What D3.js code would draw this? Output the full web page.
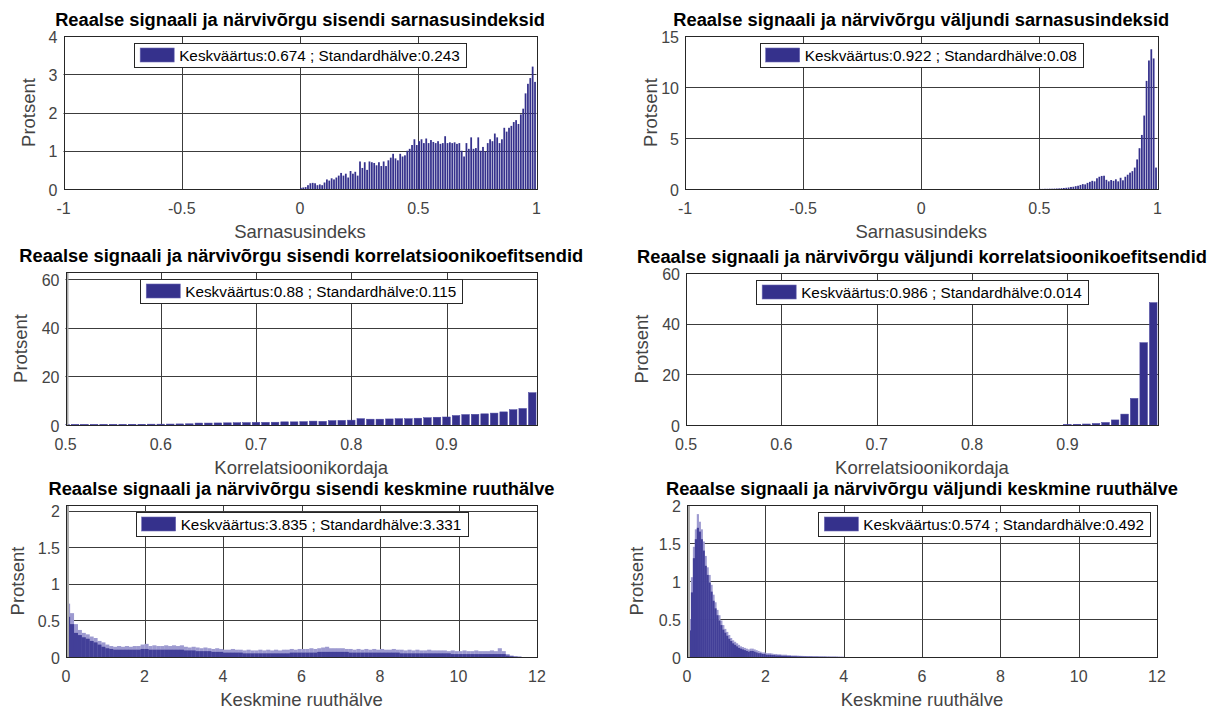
<!DOCTYPE html>
<html><head><meta charset="utf-8">
<script src="https://cdn.jsdelivr.net/npm/d3@7"></script>
<style>
html,body{margin:0;padding:0;background:#fff;}
text{font-family:"Liberation Sans",Arial,Helvetica,sans-serif;}
</style></head>
<body>
<script>
// ---------------- DATA ----------------
const titles = [
  "Reaalse signaali ja närvivõrgu sisendi sarnasusindeksid",
  "Reaalse signaali ja närvivõrgu väljundi sarnasusindeksid",
  "Reaalse signaali ja närvivõrgu sisendi korrelatsioonikoefitsendid",
  "Reaalse signaali ja närvivõrgu väljundi korrelatsioonikoefitsendid",
  "Reaalse signaali ja närvivõrgu sisendi keskmine ruuthälve",
  "Reaalse signaali ja närvivõrgu väljundi keskmine ruuthälve"
];
const xLabels = ["Sarnasusindeks","Sarnasusindeks","Korrelatsioonikordaja","Korrelatsioonikordaja","Keskmine ruuthälve","Keskmine ruuthälve"];
const yLabel = "Protsent";
const legendTexts = [
  "Keskväärtus:0.674 ; Standardhälve:0.243",
  "Keskväärtus:0.922 ; Standardhälve:0.08",
  "Keskväärtus:0.88 ; Standardhälve:0.115",
  "Keskväärtus:0.986 ; Standardhälve:0.014",
  "Keskväärtus:3.835 ; Standardhälve:3.331",
  "Keskväärtus:0.574 ; Standardhälve:0.492"
];
const xTicksSarnasus = [-1,-0.5,0,0.5,1];
const xTicksKorrelatsioon = [0.5,0.6,0.7,0.8,0.9];
const xTicksRuuthalve = [0,2,4,6,8,10,12];
const yTicksSisendSarnasus = [0,1,2,3,4];
const yTicksValjundSarnasus = [0,5,10,15];
const yTicksKorrelatsioon = [0,20,40,60];
const yTicksRuuthalve = [0,0.5,1,1.5,2];

// similarity index histogram: 0.01 wide bins from 0 to 1 (percent)
const sisendSarnasus = [
 0.03,0.04,0.05,0.1,0.15,0.16,0.15,0.1,0.12,0.1,
 0.17,0.25,0.22,0.28,0.25,0.3,0.35,0.42,0.35,0.4,
 0.3,0.47,0.4,0.45,0.35,0.72,0.55,0.7,0.5,0.72,
 0.7,0.68,0.62,0.7,0.6,0.72,0.6,0.75,0.82,0.92,
 0.8,0.75,0.92,0.85,0.88,1.0,1.05,1.15,1.3,1.15,
 1.25,1.3,1.2,1.32,1.2,1.28,1.23,1.2,1.25,1.18,
 1.2,1.38,1.2,1.22,1.2,1.22,1.18,1.2,1.0,0.85,
 1.2,1.05,1.35,1.05,1.07,1.35,1.0,1.1,0.98,1.2,
 1.3,1.25,1.45,1.35,1.2,1.3,1.6,1.5,1.6,1.65,
 1.75,1.8,1.7,1.95,2.1,2.5,2.75,2.9,3.2,2.8
];
const valjundSarnasus = [
 0,0,0,0,0,0,0,0,0,0, 0,0,0,0,0,0,0,0,0,0,
 0,0,0,0,0,0,0,0,0,0, 0,0,0,0,0,0,0,0,0,0,
 0,0,0,0,0,0,0,0,0,0,
 0.01,0.01,0.02,0.02,0.03,0.03,0.04,0.05,0.06,0.08,
 0.1,0.12,0.15,0.2,0.22,0.28,0.32,0.4,0.48,0.45,
 0.6,0.7,0.8,0.75,1.05,1.2,1.28,1.3,0.9,0.75,
 0.88,0.8,0.95,0.75,1.1,0.85,1.2,1.4,1.6,1.75,
 2.1,2.9,4.0,5.3,7.2,10.6,12.6,13.7,12.8,2.1
];
// correlation histogram: bars centred on 0.50, 0.51, ... 0.99
const sisendKorrelatsioon = [
 0.2,0.2,0.2,0.2,0.25,0.25,0.25,0.3,0.3,0.35,
 0.35,0.4,0.45,0.5,0.8,0.8,0.85,0.9,0.95,1.0,
 1.1,1.1,1.15,1.3,1.3,1.4,1.6,1.5,1.8,1.9,
 2.0,2.6,2.4,2.4,2.5,2.6,2.6,2.8,3.0,3.2,
 3.3,3.9,4.3,4.4,4.6,4.9,5.4,6.3,6.8,13.3
];
const valjundKorrelatsioon = [
 0,0,0,0,0,0,0,0,0,0, 0,0,0,0,0,0,0,0,0,0,
 0,0,0,0,0,0,0,0,0,0, 0,0,0,0,0,0,0,0,0,0,
 0.2,0.3,0.4,0.6,1.0,2.0,4.3,10.5,32.5,48.3
];
// RMS error: typical level and noisy peaks, 0.1 wide groups from 0 (percent per 0.01 bin)
const sisendRuuthalve = [
 0.55,0.45,0.33,0.3,0.27,0.25,0.22,0.2,0.17,0.14,
 0.12,0.11,0.1,0.1,0.1,0.1,0.1,0.1,0.1,0.11,
 0.11,0.1,0.1,0.1,0.1,0.1,0.1,0.1,0.1,0.1,
 0.09,0.09,0.09,0.08,0.08,0.08,0.08,0.07,0.07,0.07,
 0.06,0.06,0.06,0.06,0.06,0.05,0.05,0.05,0.05,0.05,
 0.05,0.05,0.05,0.05,0.05,0.05,0.05,0.06,0.06,0.06,
 0.06,0.06,0.06,0.06,0.07,0.07,0.07,0.07,0.07,0.07,
 0.07,0.07,0.06,0.06,0.06,0.06,0.06,0.06,0.06,0.06,
 0.06,0.06,0.06,0.06,0.06,0.05,0.05,0.05,0.05,0.05,
 0.05,0.05,0.05,0.05,0.05,0.05,0.05,0.05,0.04,0.04,
 0.04,0.04,0.04,0.04,0.04,0.04,0.04,0.04,0.04,0.04,
 0.04,0.04,0.02,0.01,0.005,0.003
];
const sisendRuuthalvePeak = [
 0.73,0.6,0.45,0.37,0.33,0.31,0.28,0.26,0.22,0.2,
 0.17,0.15,0.14,0.15,0.14,0.15,0.14,0.15,0.15,0.17,
 0.18,0.15,0.16,0.15,0.15,0.16,0.15,0.16,0.15,0.16,
 0.14,0.13,0.14,0.13,0.12,0.13,0.12,0.11,0.12,0.11,
 0.1,0.1,0.11,0.1,0.1,0.09,0.1,0.09,0.09,0.1,
 0.09,0.1,0.09,0.1,0.09,0.1,0.1,0.11,0.1,0.11,
 0.11,0.11,0.12,0.11,0.12,0.13,0.14,0.12,0.12,0.12,
 0.12,0.11,0.11,0.1,0.11,0.1,0.11,0.1,0.11,0.1,
 0.11,0.1,0.1,0.11,0.1,0.1,0.09,0.1,0.09,0.1,
 0.09,0.09,0.1,0.09,0.09,0.09,0.09,0.08,0.09,0.08,
 0.08,0.09,0.08,0.08,0.09,0.08,0.08,0.08,0.09,0.08,
 0.12,0.08,0.04,0.02,0.01,0.005
];
// 0.05 wide groups from 0 to 4
const valjundRuuthalve = [
 0.05,0.35,0.85,1.3,1.55,1.7,1.65,1.55,1.4,1.2,1.08,0.98,0.86,0.74,0.64,0.55,0.48,0.42,0.36,0.32,
 0.28,0.24,0.21,0.18,0.16,0.14,0.12,0.11,0.1,0.09,0.08,0.07,0.08,0.08,0.07,0.06,0.05,0.05,0.04,0.04,
 0.03,0.03,0.03,0.025,0.025,0.02,0.02,0.02,0.015,0.015,0.015,0.012,0.012,0.01,0.01,0.01,0.008,0.008,0.007,0.006,
 0.006,0.005,0.005,0.005,0.004,0.004,0.004,0.003,0.003,0.003,0.003,0.002,0.002,0.002,0.002,0.002,0.002,0.001,0.001,0.001
];
const valjundRuuthalvePeak = [
 0.15,0.5,1.05,1.45,1.68,1.88,1.78,1.68,1.52,1.33,1.18,1.08,0.95,0.82,0.72,0.62,0.55,0.48,0.42,0.37,
 0.33,0.29,0.25,0.22,0.2,0.18,0.16,0.14,0.13,0.12,0.11,0.1,0.11,0.11,0.1,0.09,0.08,0.07,0.06,0.06,
 0.05,0.05,0.05,0.045,0.04,0.04,0.035,0.035,0.03,0.03,0.03,0.025,0.025,0.02,0.02,0.02,0.018,0.016,0.015,0.014,
 0.013,0.012,0.012,0.011,0.01,0.01,0.01,0.009,0.009,0.008,0.008,0.007,0.007,0.006,0.006,0.006,0.005,0.005,0.004,0.004
];

// ---------------- LAYOUT ----------------
const W = 1220, H = 711;
const BAR = "#35318c", BAR_LIGHT = "#9d9ad0", GRID = "#3c3c3c", AXIS = "#262626", TICK = "#444444";

const panels = [
 {box:[63.5,536.5,36,189], xd:[-1,1], yd:[0,4], xt:xTicksSarnasus, yt:yTicksSisendSarnasus,
  kind:"hist", data:sisendSarnasus, start:0, bw:0.01, frac:1, ylx:28, leg:"north"},
 {box:[685,1157.5,36,189], xd:[-1,1], yd:[0,15], xt:xTicksSarnasus, yt:yTicksValjundSarnasus,
  kind:"hist", data:valjundSarnasus, start:0, bw:0.01, frac:1, ylx:650, leg:"north"},
 {box:[65.5,537,272,425], xd:[0.5,0.995], yd:[0,63], xt:xTicksKorrelatsioon, yt:yTicksKorrelatsioon,
  kind:"center", data:sisendKorrelatsioon, start:0.5, bw:0.01, frac:0.8, ylx:20, leg:"north", edge:true},
 {box:[686,1158,273,425], xd:[0.5,0.995], yd:[0,60], xt:xTicksKorrelatsioon, yt:yTicksKorrelatsioon,
  kind:"center", data:valjundKorrelatsioon, start:0.5, bw:0.01, frac:0.8, ylx:641, leg:"north"},
 {box:[66,537,505,657], xd:[0,12], yd:[0,2.08], xt:xTicksRuuthalve, yt:yTicksRuuthalve,
  kind:"noisy", data:sisendRuuthalve, peak:sisendRuuthalvePeak, start:0, bw:0.1, ylx:17, leg:"north", edge:true},
 {box:[687,1157,505,657], xd:[0,12], yd:[0,2], xt:xTicksRuuthalve, yt:yTicksRuuthalve,
  kind:"noisy", data:valjundRuuthalve, peak:valjundRuuthalvePeak, start:0, bw:0.05, ylx:636, leg:"northeast", edge:true}
];

const svg = d3.select("body").append("svg").attr("width", W).attr("height", H);

panels.forEach((p, i) => {
  const [L, R, T, B] = p.box;
  const x = d3.scaleLinear().domain(p.xd).range([L, R]);
  const y = d3.scaleLinear().domain(p.yd).range([B, T]);
  const g = svg.append("g");
  const clipId = "clip" + i;
  svg.append("clipPath").attr("id", clipId).append("rect")
     .attr("x", L).attr("y", T).attr("width", R - L).attr("height", B - T);

  // grid
  const grid = g.append("g");
  grid.selectAll("line.gx").data(p.xt.filter(v => v > p.xd[0] && v < p.xd[1])).enter().append("line")
     .attr("x1", d => Math.round(x(d)) + 0.5).attr("x2", d => Math.round(x(d)) + 0.5)
     .attr("y1", T).attr("y2", B).attr("stroke", GRID).attr("stroke-width", 1);
  grid.selectAll("line.gy").data(p.yt.filter(v => v > p.yd[0] && v < p.yd[1])).enter().append("line")
     .attr("y1", d => Math.round(y(d)) + 0.5).attr("y2", d => Math.round(y(d)) + 0.5)
     .attr("x1", L).attr("x2", R).attr("stroke", GRID).attr("stroke-width", 1);

  const bars = g.append("g").attr("clip-path", `url(#${clipId})`);
  if (p.kind === "hist") {
    bars.selectAll("rect").data(p.data).enter().append("rect")
      .attr("x", (d, k) => x(p.start + k * p.bw))
      .attr("width", (d, k) => Math.max(0.4, x(p.start + (k + 1) * p.bw) - x(p.start + k * p.bw) - 0.6))
      .attr("y", d => y(d)).attr("height", d => Math.max(0, y(0) - y(d)))
      .attr("fill", BAR);
  } else if (p.kind === "center") {
    bars.selectAll("rect").data(p.data).enter().append("rect")
      .attr("x", (d, k) => x(p.start + k * p.bw - p.bw * p.frac / 2))
      .attr("width", (d, k) => x(p.start + p.bw * p.frac) - x(p.start))
      .attr("y", d => y(d)).attr("height", d => Math.max(0, y(0) - y(d)))
      .attr("fill", BAR).attr("stroke", "#4a46a0").attr("stroke-width", 0.5);
  } else {
    bars.selectAll("rect.pk").data(p.peak).enter().append("rect")
      .attr("x", (d, k) => x(p.start + k * p.bw))
      .attr("width", (d, k) => x(p.start + (k + 1) * p.bw) - x(p.start + k * p.bw) + 0.2)
      .attr("y", d => y(d)).attr("height", d => Math.max(0, y(0) - y(d)))
      .attr("fill", BAR_LIGHT);
    bars.selectAll("rect.dn").data(p.data).enter().append("rect")
      .attr("x", (d, k) => x(p.start + k * p.bw))
      .attr("width", (d, k) => x(p.start + (k + 1) * p.bw) - x(p.start + k * p.bw) + 0.2)
      .attr("y", d => y(d)).attr("height", d => Math.max(0, y(0) - y(d)))
      .attr("fill", "#423f98");
  }
  if (p.edge) {
    g.append("rect").attr("x", L + 0.5).attr("y", T).attr("width", 2.5).attr("height", B - T)
      .attr("fill", "#aaaaaa");
  }

  // box
  g.append("rect").attr("x", Math.round(L) + 0.5).attr("y", T + 0.5)
    .attr("width", Math.round(R) - Math.round(L)).attr("height", B - T)
    .attr("fill", "none").attr("stroke", AXIS).attr("stroke-width", 1);

  // tick labels
  const fmt = v => String(v);
  g.selectAll("text.xt").data(p.xt).enter().append("text")
    .attr("x", d => x(d)).attr("y", B + 19).attr("text-anchor", "middle")
    .attr("dominant-baseline", "central").attr("font-size", 16).attr("fill", TICK).text(fmt);
  g.selectAll("text.yt").data(p.yt).enter().append("text")
    .attr("x", L - 6).attr("y", d => y(d) + 1).attr("text-anchor", "end")
    .attr("dominant-baseline", "central").attr("font-size", 16).attr("fill", TICK).text(fmt);

  // labels
  g.append("text").attr("x", (L + R) / 2).attr("y", B + 42).attr("text-anchor", "middle")
    .attr("dominant-baseline", "central").attr("font-size", 18.5).attr("fill", TICK).text(xLabels[i]);
  g.append("text").attr("transform", `translate(${p.ylx},${(T + B) / 2}) rotate(-90)`)
    .attr("text-anchor", "middle").attr("dominant-baseline", "central")
    .attr("font-size", 18.5).attr("fill", TICK).text(yLabel);
  g.append("text").attr("x", (L + R) / 2).attr("y", T - 17).attr("text-anchor", "middle")
    .attr("dominant-baseline", "central").attr("font-size", 18.3).attr("font-weight", "bold")
    .attr("fill", "#000").text(titles[i]);

  // legend
  const lg = g.append("g");
  const lt = lg.append("text").attr("font-size", 15.3).attr("fill", "#000")
    .attr("dominant-baseline", "central").text(legendTexts[i]);
  const tw = lt.node().getComputedTextLength();
  const bwid = 6 + 34 + 5 + tw + 6, bh = 24;
  const bx = p.leg === "north" ? (L + R) / 2 - bwid / 2 : R - 7 - bwid;
  const by = T + 7;
  lg.insert("rect", "text").attr("x", Math.round(bx) + 0.5).attr("y", Math.round(by) + 0.5)
    .attr("width", Math.round(bwid)).attr("height", bh)
    .attr("fill", "#fff").attr("stroke", AXIS).attr("stroke-width", 1);
  lg.insert("rect", "text").attr("x", bx + 6).attr("y", by + 5).attr("width", 34).attr("height", 14)
    .attr("fill", BAR).attr("stroke", "#6a66b3").attr("stroke-width", 0.6);
  lt.attr("x", bx + 45).attr("y", by + bh / 2 + 0.5);
});
</script>
</body></html>
